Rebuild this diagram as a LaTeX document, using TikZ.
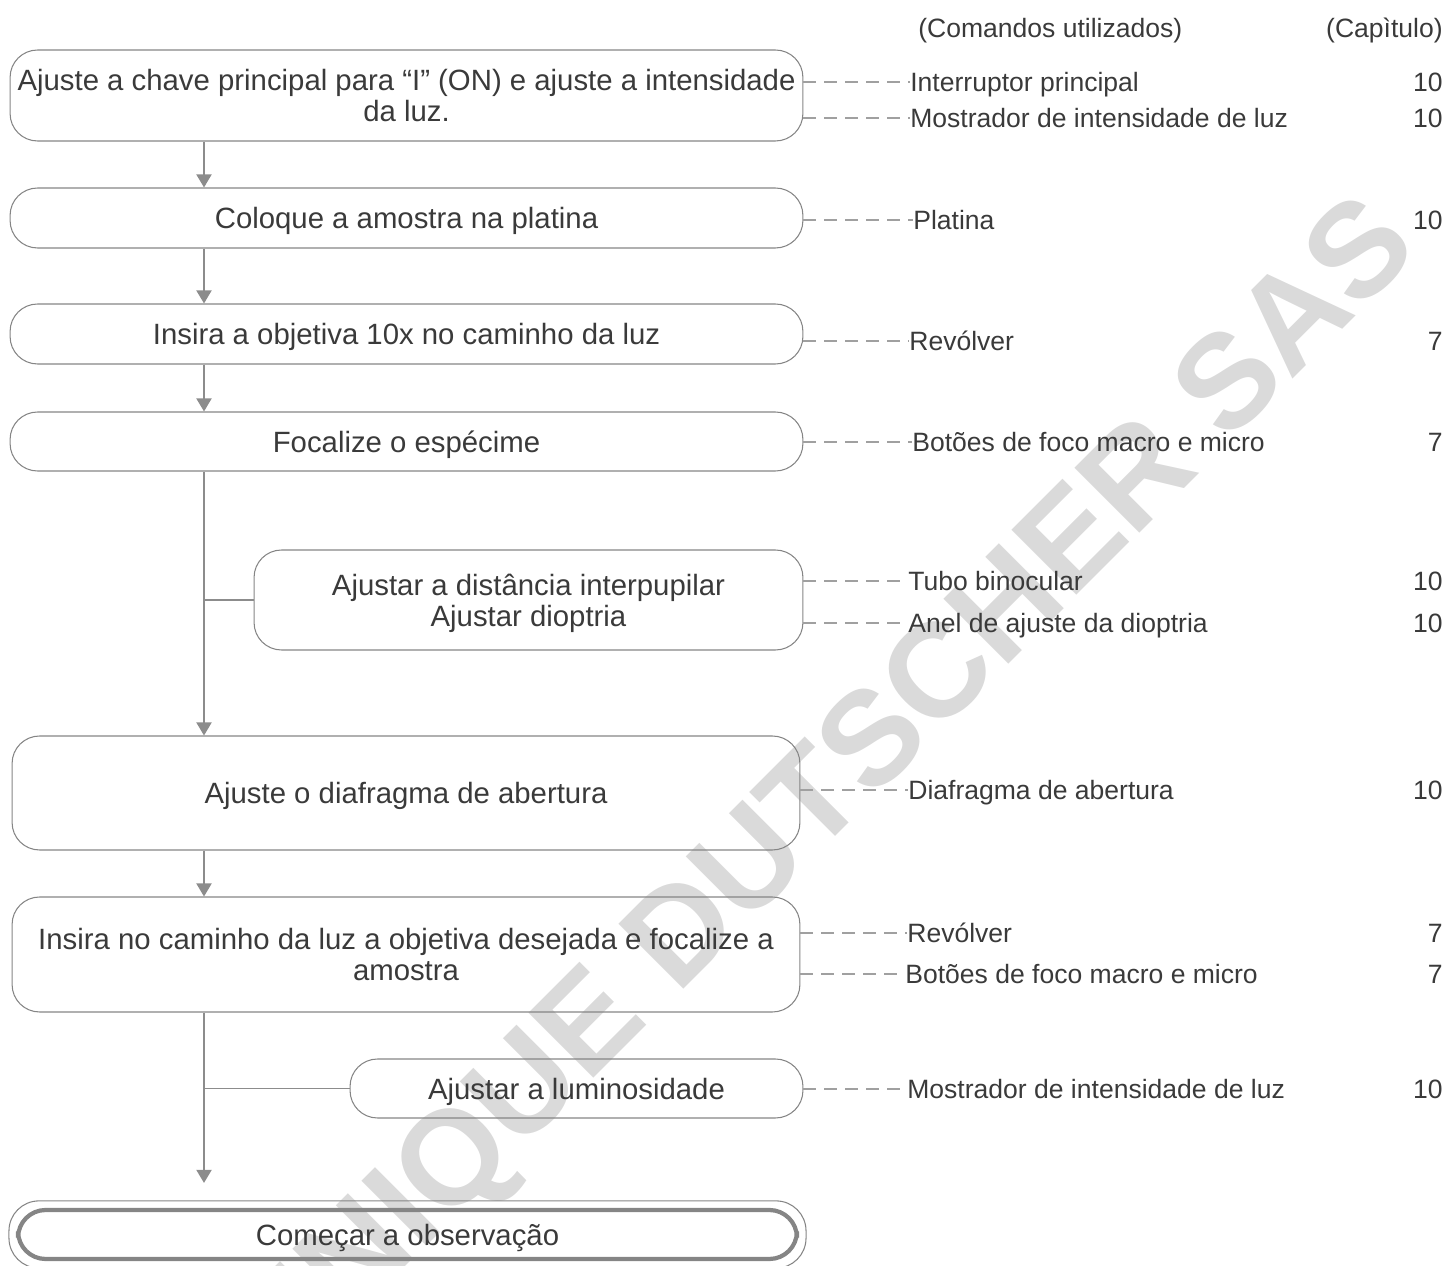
\documentclass[tikz,border=0pt]{standalone}
\usepackage{fontspec}
\setmainfont{Liberation Sans}
\usetikzlibrary{arrows.meta}
\definecolor{traco}{HTML}{8C8C8C}
\definecolor{tracejado}{HTML}{A0A0A0}
\definecolor{borda}{HTML}{858585}
\definecolor{texto}{HTML}{3A3A3A}
\definecolor{marcadagua}{HTML}{DADADA}

\begin{document}
\begin{tikzpicture}[x=0.02cm, y=-0.02cm,
    font=\fontsize{16.7}{17.6}\selectfont, text=texto,
    etapa/.style={draw=borda, line width=0.6pt, rounded corners=0.55cm, align=center, inner sep=0pt, text depth=0pt},
    seta/.style={draw=traco, line width=1.1pt, -{Triangle[width=0.3cm,length=0.26cm]}},
    ramo/.style={draw=traco, line width=1.1pt},
    guia/.style={draw=tracejado, line width=1.1pt, dash pattern=on 0.25cm off 0.17cm},
    comando/.style={anchor=west, inner sep=0pt, text height=10.8pt, text depth=0pt, font=\fontsize{15.1}{17}\selectfont},
    capitulo/.style={anchor=east, inner sep=0pt, text height=10.8pt, text depth=0pt, font=\fontsize{15.1}{17}\selectfont},
    marca/.style={text=marcadagua, rotate=45, font=\fontsize{76}{76}\selectfont\bfseries}]
  \useasboundingbox (0,0) rectangle (1448,1266);
  % marca d'agua
  \node[marca] (marca) at (740,885) {DOMINIQUE DUTSCHER SAS};
  % cabecalho
  \node[comando] (hcom) at (918,28) {(Comandos utilizados)};
  \node[capitulo] (hcap) at (1443,28) {(Capìtulo)};
  % etapas
  \coordinate (eixo) at (204,0);
  \node[etapa, minimum width=15.86cm, minimum height=1.82cm] (b1) at (406.5,95.5)
    {Ajuste a chave principal para “I” (ON) e ajuste a intensidade\\da luz.};
  \node[etapa, minimum width=15.86cm, minimum height=1.2cm] (b2) at (406.5,218) {Coloque a amostra na platina};
  \node[etapa, minimum width=15.86cm, minimum height=1.2cm] (b3) at (406.5,334) {Insira a objetiva 10x no caminho da luz};
  \node[etapa, minimum width=15.86cm, minimum height=1.18cm] (b4) at (406.5,441.5) {Focalize o espécime};
  \node[etapa, minimum width=10.98cm, minimum height=2.0cm] (b5) at (528.5,600)
    {Ajustar a distância interpupilar\\Ajustar dioptria};
  \node[etapa, minimum width=15.76cm, minimum height=2.28cm] (b6) at (406,793) {Ajuste o diafragma de abertura};
  \node[etapa, minimum width=15.76cm, minimum height=2.3cm] (b7) at (406,954.5)
    {Insira no caminho da luz a objetiva desejada e focalize a\\amostra};
  \node[etapa, minimum width=9.06cm, minimum height=1.18cm] (b8) at (576.5,1088.5) {Ajustar a luminosidade};
  \node[etapa, line width=2.4pt, minimum width=15.58cm, minimum height=0.98cm] (fim) at (407.5,1234.5) {Começar a observação};
  \draw[borda, line width=0.6pt, rounded corners=0.6cm] ([shift={(-7,-7)}]fim.north west) rectangle ([shift={(7,7)}]fim.south east);
  % fluxo
  \draw[seta] (b1.south -| eixo) -- (b2.north -| eixo);
  \draw[seta] (b2.south -| eixo) -- (b3.north -| eixo);
  \draw[seta] (b3.south -| eixo) -- (b4.north -| eixo);
  \draw[seta] (b4.south -| eixo) -- (b6.north -| eixo);
  \draw[ramo] (b5.west) -- (b5.west -| eixo);
  \draw[seta] (b6.south -| eixo) -- (b7.north -| eixo);
  \draw[seta, shorten >=0.5cm] (b7.south -| eixo) -- (fim.north -| eixo);
  \draw[ramo] (b8.west) -- (b8.west -| eixo);
  % comandos utilizados
  \node[comando] (c1) at (910,82) {Interruptor principal};
  \node[comando] (c2) at (910,118) {Mostrador de intensidade de luz};
  \node[comando] (c3) at (913,220) {Platina};
  \node[comando] (c4) at (909,341) {Revólver};
  \node[comando] (c5) at (912,442) {Botões de foco macro e micro};
  \node[comando] (c6) at (908,581) {Tubo binocular};
  \node[comando] (c7) at (908,623) {Anel de ajuste da dioptria};
  \node[comando] (c8) at (908,790) {Diafragma de abertura};
  \node[comando] (c9) at (907,933) {Revólver};
  \node[comando] (c10) at (905,974) {Botões de foco macro e micro};
  \node[comando] (c11) at (907,1089) {Mostrador de intensidade de luz};
  \draw[guia] (b1.east |- c1.west) -- (c1.west);
  \draw[guia] (b1.east |- c2.west) -- (c2.west);
  \draw[guia] (b2.east |- c3.west) -- (c3.west);
  \draw[guia] (b3.east |- c4.west) -- (c4.west);
  \draw[guia] (b4.east |- c5.west) -- (c5.west);
  \draw[guia] (b5.east |- c6.west) -- (c6.west);
  \draw[guia] (b5.east |- c7.west) -- (c7.west);
  \draw[guia] (b6.east |- c8.west) -- (c8.west);
  \draw[guia] (b7.east |- c9.west) -- (c9.west);
  \draw[guia] (b7.east |- c10.west) -- (c10.west);
  \draw[guia] (b8.east |- c11.west) -- (c11.west);
  % capitulos
  \node[capitulo] (n1) at (1443,82) {10};
  \node[capitulo] (n2) at (1443,118) {10};
  \node[capitulo] (n3) at (1443,220) {10};
  \node[capitulo] (n4) at (1443,341) {7};
  \node[capitulo] (n5) at (1443,442) {7};
  \node[capitulo] (n6) at (1443,581) {10};
  \node[capitulo] (n7) at (1443,623) {10};
  \node[capitulo] (n8) at (1443,790) {10};
  \node[capitulo] (n9) at (1443,933) {7};
  \node[capitulo] (n10) at (1443,974) {7};
  \node[capitulo] (n11) at (1443,1089) {10};
\end{tikzpicture}
\end{document}
